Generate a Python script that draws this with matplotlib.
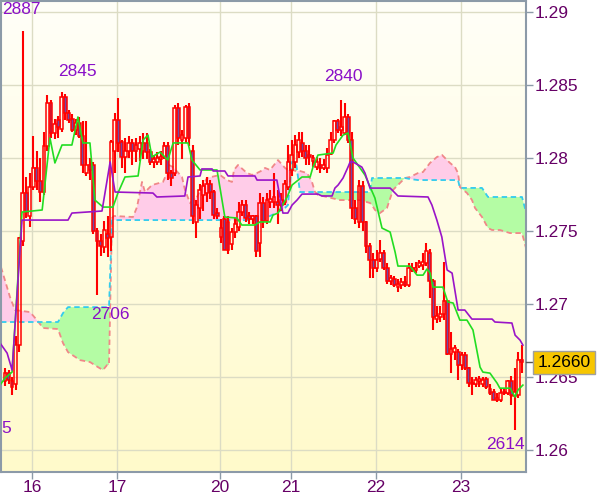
import matplotlib
matplotlib.use("Agg")
import matplotlib.pyplot as plt
import matplotlib.transforms as mtransforms
from matplotlib.colors import LinearSegmentedColormap
import numpy as np

plt.rcParams['font.family'] = ['Liberation Sans Narrow', 'DejaVu Sans Condensed', 'Liberation Sans', 'DejaVu Sans']

# hourly bars, index 0 = first bar on screen
opens = [1.2647, 1.2653, 1.2647, 1.2645, 1.2672, 1.2743, 1.2776, 1.2760, 1.2780, 1.2793,
         1.2784, 1.2777, 1.2808, 1.2838, 1.2817, 1.2826, 1.2820, 1.2842, 1.2831, 1.2827,
         1.2819, 1.2824, 1.2815, 1.2790, 1.2795, 1.2795, 1.2750, 1.2743, 1.2739, 1.2748,
         1.2746, 1.2805, 1.2826, 1.2811, 1.2801, 1.2805, 1.2810, 1.2805, 1.2806, 1.2805,
         1.2810, 1.2804, 1.2797, 1.2797, 1.2799, 1.2801, 1.2808, 1.2790, 1.2790, 1.2834,
         1.2812, 1.2814, 1.2835, 1.2805, 1.2756, 1.2766, 1.2775, 1.2776, 1.2782, 1.2777,
         1.2762, 1.2746, 1.2758, 1.2756, 1.2741, 1.2749, 1.2753, 1.2763, 1.2768, 1.2760,
         1.2758, 1.2760, 1.2742, 1.2769, 1.2757, 1.2770, 1.2770, 1.2770, 1.2768, 1.2770,
         1.2780, 1.2792, 1.2797, 1.2804, 1.2810, 1.2805, 1.2802, 1.2798, 1.2794, 1.2795,
         1.2793, 1.2793, 1.2803, 1.2812, 1.2825, 1.2819, 1.2817, 1.2828, 1.2812, 1.2766,
         1.2756, 1.2781, 1.2756, 1.2740, 1.2730, 1.2725, 1.2731, 1.2735, 1.2725, 1.2716,
         1.2717, 1.2712, 1.2713, 1.2715, 1.2713, 1.2723, 1.2723, 1.2726, 1.2727, 1.2728,
         1.2735, 1.2716, 1.2690, 1.2691, 1.2693, 1.2702, 1.2666, 1.2667, 1.2667, 1.2658,
         1.2665, 1.2656, 1.2646, 1.2645, 1.2647, 1.2645, 1.2649, 1.2642, 1.2640, 1.2634,
         1.2634, 1.2639, 1.2639, 1.2647, 1.2637, 1.2638, 1.2662]
highs = [1.2656, 1.2655, 1.2650, 1.2678, 1.2746, 1.2887, 1.2787, 1.2790, 1.2815, 1.2805,
         1.2800, 1.2818, 1.2843, 1.2840, 1.2827, 1.2829, 1.2845, 1.2844, 1.2833, 1.2830,
         1.2827, 1.2828, 1.2825, 1.2825, 1.2800, 1.2797, 1.2752, 1.2748, 1.2757, 1.2760,
         1.2812, 1.2831, 1.2841, 1.2812, 1.2814, 1.2815, 1.2813, 1.2814, 1.2815, 1.2817,
         1.2817, 1.2806, 1.2802, 1.2804, 1.2805, 1.2811, 1.2811, 1.2792, 1.2836, 1.2838,
         1.2819, 1.2836, 1.2838, 1.2809, 1.2771, 1.2782, 1.2785, 1.2787, 1.2785, 1.2778,
         1.2766, 1.2758, 1.2760, 1.2760, 1.2752, 1.2759, 1.2770, 1.2771, 1.2771, 1.2763,
         1.2761, 1.2761, 1.2776, 1.2773, 1.2776, 1.2778, 1.2790, 1.2778, 1.2776, 1.2785,
         1.2809, 1.2812, 1.2816, 1.2818, 1.2818, 1.2809, 1.2809, 1.2802, 1.2801, 1.2800,
         1.2799, 1.2807, 1.2818, 1.2826, 1.2827, 1.2840, 1.2838, 1.2830, 1.2818, 1.2771,
         1.2785, 1.2784, 1.2757, 1.2742, 1.2735, 1.2737, 1.2744, 1.2737, 1.2728, 1.2720,
         1.2719, 1.2717, 1.2718, 1.2719, 1.2728, 1.2728, 1.2729, 1.2730, 1.2735, 1.2742,
         1.2738, 1.2717, 1.2699, 1.2699, 1.2729, 1.2703, 1.2681, 1.2672, 1.2669, 1.2667,
         1.2667, 1.2657, 1.2650, 1.2650, 1.2651, 1.2650, 1.2650, 1.2645, 1.2642, 1.2639,
         1.2642, 1.2642, 1.2648, 1.2651, 1.2656, 1.2667, 1.2672]
lows = [1.2644, 1.2645, 1.2638, 1.2641, 1.2667, 1.2740, 1.2759, 1.2753, 1.2778, 1.2778,
        1.2770, 1.2775, 1.2805, 1.2814, 1.2813, 1.2814, 1.2818, 1.2826, 1.2824, 1.2818,
        1.2816, 1.2814, 1.2790, 1.2788, 1.2785, 1.2748, 1.2706, 1.2733, 1.2735, 1.2732,
        1.2736, 1.2790, 1.2804, 1.2793, 1.2790, 1.2800, 1.2795, 1.2797, 1.2798, 1.2799,
        1.2799, 1.2795, 1.2793, 1.2795, 1.2795, 1.2799, 1.2785, 1.2781, 1.2788, 1.2809,
        1.2799, 1.2810, 1.2808, 1.2755, 1.2745, 1.2758, 1.2764, 1.2770, 1.2772, 1.2758,
        1.2758, 1.2742, 1.2737, 1.2734, 1.2737, 1.2745, 1.2750, 1.2760, 1.2756, 1.2755,
        1.2755, 1.2732, 1.2732, 1.2752, 1.2755, 1.2766, 1.2766, 1.2755, 1.2764, 1.2768,
        1.2778, 1.2788, 1.2793, 1.2800, 1.2801, 1.2795, 1.2795, 1.2794, 1.2792, 1.2790,
        1.2792, 1.2790, 1.2802, 1.2810, 1.2817, 1.2815, 1.2816, 1.2810, 1.2758, 1.2755,
        1.2752, 1.2750, 1.2735, 1.2718, 1.2718, 1.2722, 1.2729, 1.2723, 1.2714, 1.2713,
        1.2712, 1.2708, 1.2710, 1.2712, 1.2712, 1.2722, 1.2721, 1.2725, 1.2723, 1.2726,
        1.2704, 1.2682, 1.2687, 1.2688, 1.2689, 1.2665, 1.2653, 1.2662, 1.2648, 1.2655,
        1.2655, 1.2643, 1.2638, 1.2643, 1.2643, 1.2643, 1.2642, 1.2638, 1.2634, 1.2633,
        1.2633, 1.2638, 1.2638, 1.2631, 1.2614, 1.2636, 1.2653]
closes = [1.2653, 1.2648, 1.2643, 1.2672, 1.2745, 1.2776, 1.2763, 1.2780, 1.2793, 1.2784,
          1.2777, 1.2808, 1.2838, 1.2817, 1.2823, 1.2821, 1.2842, 1.2831, 1.2826, 1.2819,
          1.2824, 1.2815, 1.2795, 1.2795, 1.2792, 1.2750, 1.2743, 1.2740, 1.2751, 1.2745,
          1.2811, 1.2826, 1.2810, 1.2801, 1.2805, 1.2810, 1.2805, 1.2809, 1.2810, 1.2810,
          1.2804, 1.2797, 1.2799, 1.2800, 1.2801, 1.2808, 1.2790, 1.2786, 1.2834, 1.2814,
          1.2816, 1.2835, 1.2814, 1.2760, 1.2768, 1.2778, 1.2781, 1.2782, 1.2777, 1.2761,
          1.2760, 1.2752, 1.2737, 1.2737, 1.2749, 1.2755, 1.2763, 1.2768, 1.2759, 1.2758,
          1.2760, 1.2736, 1.2769, 1.2757, 1.2771, 1.2772, 1.2773, 1.2768, 1.2771, 1.2782,
          1.2797, 1.2802, 1.2809, 1.2812, 1.2805, 1.2800, 1.2801, 1.2800, 1.2797, 1.2793,
          1.2795, 1.2802, 1.2812, 1.2825, 1.2819, 1.2821, 1.2828, 1.2812, 1.2766, 1.2758,
          1.2781, 1.2756, 1.2740, 1.2730, 1.2725, 1.2730, 1.2735, 1.2725, 1.2716, 1.2718,
          1.2713, 1.2714, 1.2715, 1.2713, 1.2725, 1.2725, 1.2725, 1.2728, 1.2729, 1.2736,
          1.2716, 1.2691, 1.2692, 1.2693, 1.2702, 1.2666, 1.2669, 1.2670, 1.2658, 1.2665,
          1.2656, 1.2646, 1.2645, 1.2648, 1.2649, 1.2648, 1.2643, 1.2639, 1.2634, 1.2636,
          1.2639, 1.2640, 1.2647, 1.2638, 1.2640, 1.2662, 1.2660]

# tenkan (green) and kijun (purple)
tenkan_x = [-1.4, 0.0, 2.0, 4.8, 10.5, 12.7, 14.1, 16.1, 18.9, 20.6, 22.0, 24.0, 25.4, 27.7,
            30.5, 31.9, 33.9, 37.6, 39.0, 40.4, 41.5, 43.8, 46.0, 47.5, 51.7, 52.8, 55.1,
            59.9, 62.1, 65.5, 66.9, 70.6, 72.0, 74.9, 75.7, 77.1, 79.7, 81.1, 83.9, 86.2,
            87.0, 88.4, 92.7, 93.5, 95.5, 96.9, 98.3, 101.7, 104.5, 106.5, 108.8, 110.2,
            111.0, 114.4, 116.4, 118.1, 119.2, 120.1, 120.9, 123.7, 125.1, 126.6, 128.5,
            130.5, 132.2, 134.2, 135.0, 137.0, 139.0, 139.8, 142.7, 144.1, 144.9, 146.3]
tenkan_y = [1.26445, 1.26493, 1.26534, 1.27630, 1.27644, 1.28137, 1.27966, 1.28089, 1.28089,
            1.28281, 1.28103, 1.28103, 1.27712, 1.27664, 1.27664, 1.27760, 1.27870, 1.27877,
            1.28123, 1.28157, 1.28007, 1.28041, 1.27986, 1.28103, 1.28103, 1.27986, 1.27918,
            1.27918, 1.27596, 1.27589, 1.27541, 1.27541, 1.27562, 1.27562, 1.27609, 1.27623,
            1.27733, 1.27815, 1.27870, 1.27870, 1.27938, 1.28020, 1.28034, 1.28089, 1.28157,
            1.28171, 1.28000, 1.27883, 1.27726, 1.27520, 1.27493, 1.27356, 1.27260, 1.27260,
            1.27198, 1.27198, 1.27240, 1.27212, 1.27116, 1.27116, 1.27014, 1.27007, 1.26890,
            1.26890, 1.26822, 1.26568, 1.26534, 1.26527, 1.26459, 1.26424, 1.26424, 1.26363,
            1.26411, 1.26445]
kijun_x = [-1.4, 0.6, 2.0, 4.8, 17.8, 18.9, 27.4, 29.7, 31.1, 41.8, 42.9, 50.8, 51.7, 55.1,
           55.6, 58.5, 58.8, 62.1, 63.0, 70.6, 71.2, 76.8, 78.5, 79.9, 81.1, 82.5, 83.9, 88.4,
           89.5, 92.4, 93.2, 94.1, 95.5, 96.9, 97.5, 98.3, 100.8, 101.7, 103.1, 108.8, 111.0,
           119.5, 120.6, 122.0, 123.4, 124.9, 126.3, 128.0, 129.9, 131.9, 137.6, 138.4, 143.2,
           144.1, 145.5, 146.3]
kijun_y = [1.26733, 1.26664, 1.26548, 1.27575, 1.27575, 1.27623, 1.27637, 1.27973, 1.27767,
           1.27760, 1.27733, 1.27740, 1.27870, 1.27877, 1.27925, 1.27925, 1.27911, 1.27911,
           1.27877, 1.27877, 1.27849, 1.27849, 1.27623, 1.27623, 1.27678, 1.27712, 1.27753,
           1.27753, 1.27740, 1.27740, 1.27794, 1.27815, 1.27863, 1.27938, 1.27973, 1.27973,
           1.27938, 1.27897, 1.27794, 1.27794, 1.27740, 1.27733, 1.27678, 1.27575, 1.27459,
           1.27233, 1.27212, 1.26959, 1.26959, 1.26897, 1.26897, 1.26877, 1.26870, 1.26787,
           1.26753, 1.26719]

# cloud: span A (salmon dashed) and span B (cyan dashed), same x positions
cloud_x = [-1.13, 1.41, 2.82, 7.06, 9.04, 10.73, 14.97, 16.38, 17.80, 21.19, 24.01, 26.27,
           27.68, 28.81, 29.38, 30.23, 30.79, 36.16, 37.29, 38.70, 39.55, 41.53, 44.63, 45.76,
           46.33, 47.46, 50.00, 50.85, 52.26, 54.24, 55.65, 57.06, 60.73, 62.71, 64.12, 64.69,
           65.82, 68.36, 69.77, 71.19, 72.88, 73.45, 74.86, 77.12, 79.10, 79.94, 81.07, 82.20,
           83.33, 85.31, 86.72, 87.57, 88.42, 90.96, 94.63, 100.28, 103.11, 103.67, 104.52,
           105.93, 107.91, 109.60, 111.58, 112.99, 114.41, 116.67, 118.08, 120.06, 122.03,
           123.45, 124.86, 125.71, 127.12, 127.97, 128.53, 130.51, 131.92, 132.77, 134.75,
           136.44, 137.57, 139.83, 142.66, 146.05, 147.18]
span_a = [1.27253, 1.27048, 1.26959, 1.26945, 1.26890, 1.26836, 1.26829, 1.26733, 1.26671,
          1.26616, 1.26603, 1.26568, 1.26548, 1.26582, 1.26582, 1.27589, 1.27603, 1.27596,
          1.27664, 1.27836, 1.27767, 1.27815, 1.27836, 1.27897, 1.27952, 1.27938, 1.27870,
          1.27781, 1.27692, 1.27733, 1.27801, 1.27863, 1.27884, 1.27849, 1.27836, 1.27918,
          1.27952, 1.27897, 1.27884, 1.27897, 1.27918, 1.27932, 1.27918, 1.27986, 1.27932,
          1.27918, 1.27918, 1.27911, 1.27911, 1.27897, 1.27836, 1.27767, 1.27747, 1.27733,
          1.27712, 1.27712, 1.27692, 1.27678, 1.27644, 1.27623, 1.27658, 1.27781, 1.27829,
          1.27863, 1.27870, 1.27897, 1.27904, 1.27966, 1.28007, 1.28021, 1.27986, 1.27966,
          1.27938, 1.27897, 1.27801, 1.27760, 1.27712, 1.27658, 1.27596, 1.27521, 1.27507,
          1.27507, 1.27486, 1.27486, 1.27384]
span_b = [1.26877, 1.26877, 1.26877, 1.26877, 1.26877, 1.26877, 1.26877, 1.26938, 1.26979,
          1.26979, 1.26979, 1.26979, 1.26979, 1.26979, 1.26979, 1.27575, 1.27575, 1.27575,
          1.27575, 1.27575, 1.27575, 1.27575, 1.27575, 1.27575, 1.27575, 1.27575, 1.27575,
          1.27575, 1.27575, 1.27575, 1.27575, 1.27575, 1.27575, 1.27575, 1.27575, 1.27575,
          1.27575, 1.27575, 1.27575, 1.27575, 1.27575, 1.27582, 1.27603, 1.27630, 1.27658,
          1.27678, 1.27973, 1.27973, 1.27767, 1.27767, 1.27767, 1.27767, 1.27767, 1.27767,
          1.27767, 1.27767, 1.27767, 1.27863, 1.27863, 1.27863, 1.27863, 1.27863, 1.27863,
          1.27863, 1.27856, 1.27849, 1.27849, 1.27849, 1.27849, 1.27849, 1.27849, 1.27849,
          1.27849, 1.27849, 1.27795, 1.27795, 1.27795, 1.27795, 1.27795, 1.27733, 1.27733,
          1.27733, 1.27733, 1.27733, 1.27630]

day_pos = [7.6, 31.6, 60.7, 80.8, 104.8, 128.8]
day_labels = ["16", "17", "20", "21", "22", "23"]
price_ticks = [1.26, 1.265, 1.27, 1.275, 1.28, 1.285, 1.29]
price_labels = ["1.26", "1.265", "1.27", "1.275", "1.28", "1.285", "1.29"]

# extreme labels: text, bar position, price position
mark_text = ["2887", "2845", "2840", "2706", "2614", "5"]
mark_x = [4.5, 20.6, 95.5, 29.7, 141.5, 0.3]
mark_y = [1.29014, 1.28589, 1.28555, 1.26925, 1.26041, 1.26151]

fig = plt.figure(figsize=(6.0, 4.97), dpi=100, facecolor='white')
ax = fig.add_axes([1 / 600, 25 / 497, 525 / 600, 471 / 497])

x0, x1 = -1.13, 147.18
y0, y1 = 1.2585, 1.29075

# pale yellow gradient background
bg = LinearSegmentedColormap.from_list('bg', ['#fffff8', '#fffacb'])
ax.imshow(np.linspace(0, 1, 200).reshape(-1, 1), cmap=bg, aspect='auto',
          extent=[x0, x1, y0, y1], origin='upper', zorder=0)

# cloud
ca = np.array(span_a)
cb = np.array(span_b)
ax.fill_between(cloud_x, ca, cb, where=ca >= cb, interpolate=True,
                color='#ffcce8', lw=0, zorder=1)
ax.fill_between(cloud_x, ca, cb, where=ca < cb, interpolate=True,
                color='#b4fca4', lw=0, zorder=1)
ax.plot(cloud_x, span_a, color='#f08888', lw=1.3, ls=(0, (3, 2)), zorder=2)
ax.plot(cloud_x, span_b, color='#33ccee', lw=1.3, ls=(0, (3, 2)), zorder=2)

# candles
o = np.array(opens)
h = np.array(highs)
l = np.array(lows)
c = np.array(closes)
idx = np.arange(len(o))
top = np.maximum(o, c)
bot = np.minimum(o, c)
ax.vlines(idx, top, h, color='#ff0000', lw=1.5, zorder=3)
ax.vlines(idx, l, bot, color='#ff0000', lw=1.5, zorder=3)
up = c >= o
hgt = np.maximum(top - bot, 0.00006)
ax.bar(idx[up], hgt[up], bottom=bot[up], width=0.8, facecolor='none',
       edgecolor='#ff0000', lw=1.1, zorder=3)
ax.bar(idx[~up], hgt[~up], bottom=bot[~up], width=0.8, facecolor='#6f4aa6',
       edgecolor='#ff0000', lw=1.1, zorder=3)

# tenkan / kijun
ax.plot(tenkan_x, tenkan_y, color='#22dd22', lw=1.2, zorder=4)
ax.plot(kijun_x, kijun_y, color='#9a14c8', lw=1.2, zorder=4)

for s, xx, yy in zip(mark_text, mark_x, mark_y):
    ax.text(xx, yy, s, color='#8a10c8', fontsize=12.5, ha='center', va='center',
            family=['Liberation Sans', 'DejaVu Sans'], zorder=6)

ax.set_xlim(x0, x1)
ax.set_ylim(y0, y1)
ax.set_xticks(day_pos)
ax.set_xticklabels(day_labels)
ax.set_yticks(price_ticks)
ax.set_yticklabels(price_labels)
ax.yaxis.tick_right()
ax.grid(color='#dcdcc4', lw=1)
ax.set_axisbelow(True)
ax.tick_params(axis='y', direction='out', length=5, width=1, color='#8c9aa8',
               labelcolor='#660066', labelsize=12.5, pad=1.5)
ax.tick_params(axis='x', direction='out', length=5, width=1, color='#8c9aa8',
               labelcolor='#660066', labelsize=12.5, pad=1)
for sp in ax.spines.values():
    sp.set_color('#8c9aa8')
    sp.set_linewidth(1.5)

# current price box on the right axis
last = closes[-1]
trans = mtransforms.blended_transform_factory(ax.transAxes, ax.transData)
ax.plot([1.0, 1.011], [last, last], color='#555555', lw=1, transform=trans,
        clip_on=False, zorder=9)
ax.text(1.0724, last, f"{last:.4f}", transform=trans, ha='center', va='center',
        fontsize=12.5, color='black', family=['Liberation Sans', 'DejaVu Sans'],
        bbox=dict(boxstyle='square,pad=0.25', fc='#f7c600', ec='#a0a0a0', lw=1),
        zorder=10, clip_on=False)

fig.savefig('out.png', dpi=100, facecolor='white')
